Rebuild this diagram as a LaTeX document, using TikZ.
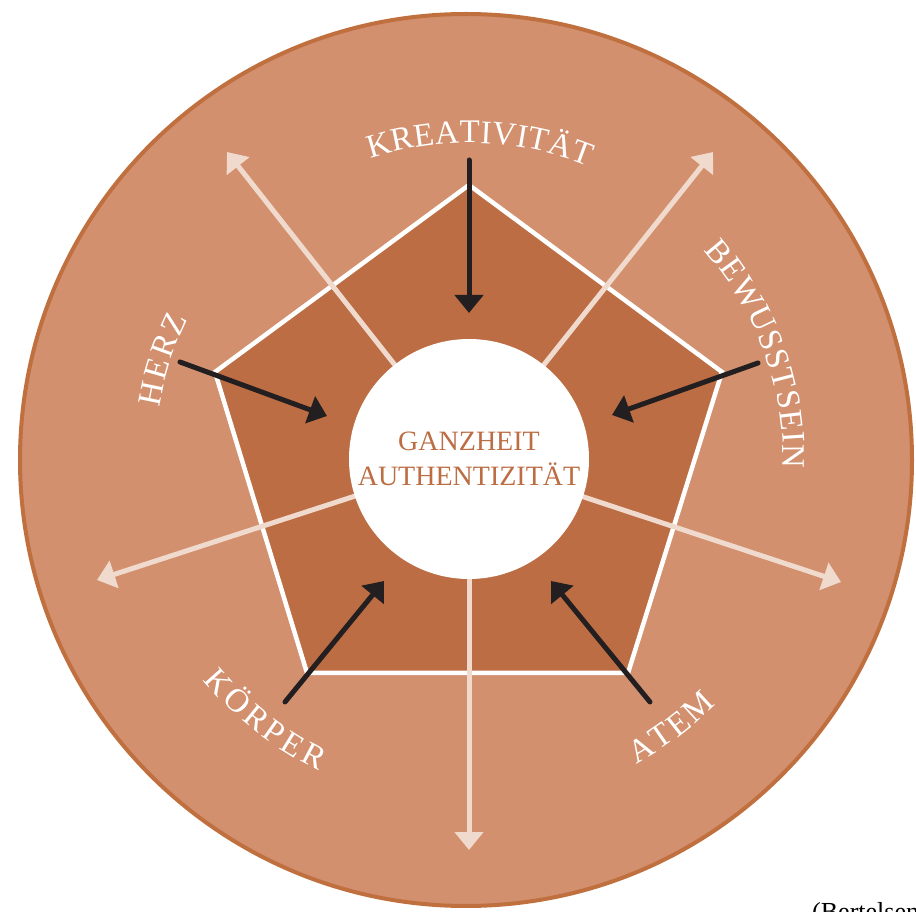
\documentclass[tikz,border=0pt]{standalone}
\usepackage{fontspec}
\setmainfont{Liberation Serif}
\usetikzlibrary{arrows.meta,decorations.text}
\definecolor{outerfill}{HTML}{D2906E}
\definecolor{ringc}{HTML}{C0703F}
\definecolor{pentfill}{HTML}{BC6D43}
\definecolor{lightc}{HTML}{F0DACD}
\definecolor{darkc}{HTML}{231F20}
\newcommand\mylabelfont{\fontsize{33}{33}\selectfont}
\begin{document}
\begin{tikzpicture}[x=1pt,y=1pt,
  lightarrow/.style={draw=lightc, line width=5pt, -{Triangle[length=18pt,width=28pt]}},
  darkarrow/.style={draw=darkc, line width=5pt, line cap=round, -{Triangle[length=18pt,width=28pt]}},
  arclabel/.style 2 args={decorate, decoration={text effects along path, text={#1}, text align=center,
     text effects/.cd, text along path,
     character widths={inner xsep=#2, font=\mylabelfont},
     characters={text=white, font=\mylabelfont}}}
  ]
\useasboundingbox (0,0) rectangle (916,911);
% outer disc
\node[circle, fill=outerfill, draw=ringc, line width=4pt, minimum size=892pt, inner sep=0pt] (outer) at (466,451) {};
% pentagon
\coordinate (c) at (469,452);
\coordinate (p1) at (469,726);
\coordinate (p2) at (722,539);
\coordinate (p3) at (628,238);
\coordinate (p4) at (307,238);
\coordinate (p5) at (215,539);
\draw[white, line width=4.5pt, fill=pentfill, line join=miter] (p1) -- (p2) -- (p3) -- (p4) -- (p5) -- cycle;
% light outward arrows
\coordinate (l1) at (227,759);
\coordinate (l2) at (713,759);
\coordinate (l3) at (841,329);
\coordinate (l4) at (469,61);
\coordinate (l5) at (97,331);
\foreach \t in {l1,l2,l3,l4,l5} \draw[lightarrow] (c) -- (\t);
% central disc
\node[circle, fill=white, minimum size=240pt, inner sep=0pt, align=center, text=pentfill,
  font=\fontsize{28}{35}\selectfont] (core) at (469,452) {GANZHEIT\\AUTHENTIZITÄT};
% dark inward arrows
\coordinate (kS) at (469,751); \coordinate (kE) at (469,598);
\coordinate (bS) at (758,548); \coordinate (bE) at (612,496);
\coordinate (aS) at (650,209); \coordinate (aE) at (551,330);
\coordinate (rS) at (285,209); \coordinate (rE) at (384,330);
\coordinate (hS) at (180,549); \coordinate (hE) at (327,495);
\draw[darkarrow] (kS) -- (kE);
\draw[darkarrow] (bS) -- (bE);
\draw[darkarrow] (aS) -- (aE);
\draw[darkarrow] (rS) -- (rE);
\draw[darkarrow] (hS) -- (hE);
% curved labels
\begin{scope}
\mylabelfont
\path[arclabel={KREATIVITÄT}{0.1pt}] (c) ++(148:316) arc[start angle=148, end angle=28, radius=316];
\path[arclabel={BEWUSSTSEIN}{0.5pt}] (c) ++(80:314) arc[start angle=80, end angle=-40, radius=314];
\path[arclabel={HERZ}{1.2pt}] (c) ++(222:314) arc[start angle=222, end angle=102, radius=314];
\path[arclabel={KÖRPER}{1.8pt}] (c) ++(-188:346) arc[start angle=-188, end angle=-68, radius=346];
\path[arclabel={ATEM}{1.0pt}] (c) ++(-113:348) arc[start angle=-113, end angle=7, radius=348];
\end{scope}
% source note (cut off by the page edge)
\node[anchor=base west, inner sep=0pt, font=\fontsize{26}{26}\selectfont, text=black] (src) at (812,-9) {(Bertelsen};
\end{tikzpicture}
\end{document}
